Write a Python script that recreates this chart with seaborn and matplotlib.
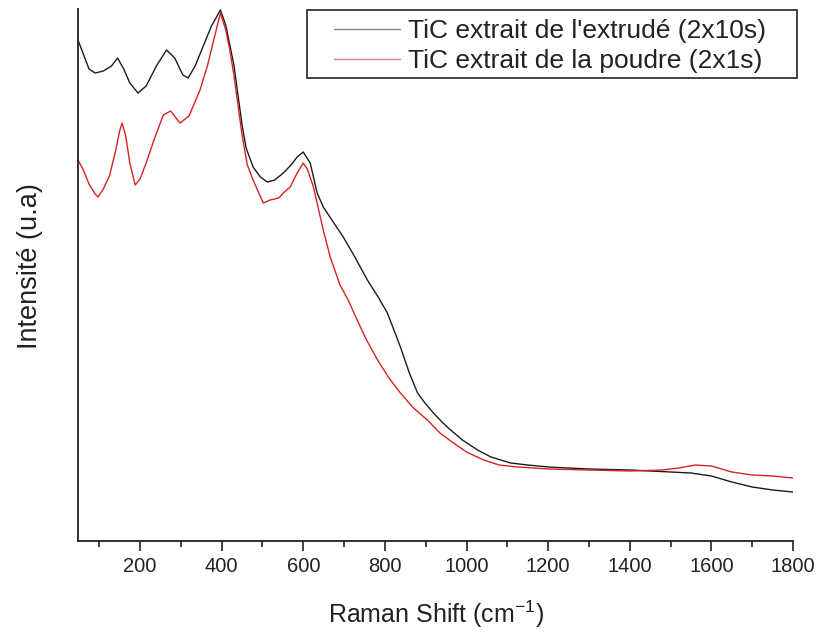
import matplotlib
matplotlib.use("Agg")
import matplotlib.pyplot as plt
import seaborn as sns
import pandas as pd
from matplotlib.ticker import MultipleLocator, NullLocator
from matplotlib.patches import Rectangle

# Raman shift (cm-1) and intensity (arbitrary units)
x_extrude = [48, 60, 75, 90, 110, 130, 145, 160, 175, 195, 215, 240, 265, 285, 305, 318,
             335, 355, 375, 397, 410, 420, 430, 440, 450, 460, 477, 495, 512, 530, 551,
             570, 585, 600, 617, 634, 649, 675, 698, 725, 757, 785, 806, 825, 838, 860,
             880, 900, 919, 940, 961, 990, 1027, 1060, 1108, 1150, 1200, 1300, 1400,
             1500, 1550, 1600, 1650, 1700, 1750, 1800]
y_extrude = [501, 488, 472, 468, 470, 475, 483, 472, 458, 448, 455, 475, 491, 483, 466, 463,
             475, 495, 515, 531, 516, 496, 476, 446, 416, 393, 374, 364, 359, 361, 368,
             376, 384, 389, 378, 348, 334, 318, 304, 285, 261, 243, 228, 208, 194, 168,
             148, 137, 128, 119, 111, 101, 91, 84, 78, 76, 74, 72, 71,
             69, 68, 65, 59, 54, 51, 49]

x_poudre = [48, 60, 75, 90, 97, 110, 125, 140, 150, 156, 165, 175, 188, 200, 215, 235, 257,
            275, 298, 320, 347, 365, 380, 397, 410, 420, 430, 440, 450, 463, 477, 502, 519,
            540, 551, 568, 585, 600, 610, 625, 649, 666, 690, 710, 732, 755, 782, 810, 838,
            870, 904, 935, 968, 1000, 1042, 1080, 1125, 1200, 1300, 1400, 1480, 1520, 1560,
            1600, 1650, 1700, 1750, 1800]
y_poudre = [381, 372, 357, 347, 344, 352, 365, 390, 410, 418, 405, 378, 356, 362, 378, 402, 426,
            430, 418, 425, 451, 475, 500, 528, 511, 491, 466, 436, 406, 376, 361, 338, 341,
            343, 348, 354, 368, 378, 372, 354, 311, 284, 256, 241, 221, 201, 181, 163, 148,
            133, 121, 108, 98, 89, 81, 76, 74, 72, 71, 70, 71, 73, 76,
            75, 69, 66, 65, 63]

labels = ["TiC extrait de l'extrudé (2x10s)", "TiC extrait de la poudre (2x1s)"]
colors = ["#1c1c1c", "#d42323"]

xticks = [200, 400, 600, 800, 1000, 1200, 1400, 1600, 1800]

sns.set_style("ticks")
plt.rcParams['font.family'] = ['Liberation Sans', 'DejaVu Sans']
plt.rcParams['mathtext.fontset'] = 'custom'
plt.rcParams['mathtext.rm'] = 'Liberation Sans'

fig = plt.figure(figsize=(8.19, 6.32), dpi=100)
ax = fig.add_axes([78/819, 1 - 541/632, (793-78)/819, (541-9)/632])

df1 = pd.DataFrame({"x": x_extrude, "y": y_extrude})
df2 = pd.DataFrame({"x": x_poudre, "y": y_poudre})
sns.lineplot(data=df1, x="x", y="y", ax=ax, color=colors[0], lw=1.0, label=labels[0])
sns.lineplot(data=df2, x="x", y="y", ax=ax, color=colors[1], lw=1.0, label=labels[1])

ax.set_xlim(48, 1800)
ax.set_ylim(0, 532)
ax.set_xticks(xticks)
ax.xaxis.set_minor_locator(MultipleLocator(100))
ax.yaxis.set_major_locator(NullLocator())
ax.tick_params(axis='x', which='major', length=7.5, width=1.2, labelsize=14.5, pad=4,
               direction='out', colors="#222222")
ax.tick_params(axis='x', which='minor', length=4, width=1.2, direction='out', colors="#222222")
for s in ["top", "right"]:
    ax.spines[s].set_visible(False)
for s in ["left", "bottom"]:
    ax.spines[s].set_linewidth(1.3)
    ax.spines[s].set_color("#222222")

ax.set_xlabel("Raman Shift (cm$^{\\mathregular{-1}}$)", fontsize=18, labelpad=16, color="#222222")
ax.set_ylabel("Intensité (u.a)", fontsize=19.5, color="#222222")
ax.yaxis.set_label_coords(-0.049, 0.517)

leg = ax.legend(loc="center left", bbox_to_anchor=(334/819, 1 - 46/632), bbox_transform=fig.transFigure,
                fontsize=19, frameon=False, borderpad=0, handlelength=2.5,
                handletextpad=0.3, labelspacing=0.22, borderaxespad=0)
for h, c in zip(leg.get_lines(), ["#8a8a8a", "#e08080"]):
    h.set_color(c)
    h.set_linewidth(1.0)
for t in leg.get_texts():
    t.set_color("#222222")

frame = Rectangle((307/819, 1 - 78/632), (797-307)/819, (78-10)/632, transform=fig.transFigure,
                  fill=False, edgecolor="#222222", linewidth=1.2, zorder=5)
fig.patches.append(frame)

fig.savefig("out.png", dpi=100)
